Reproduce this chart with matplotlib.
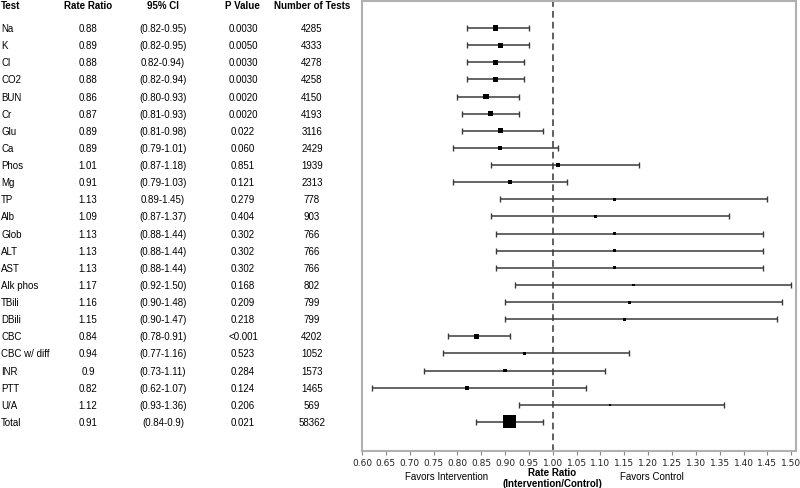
import numpy as np
import matplotlib.pyplot as plt

tests = ['Na', 'K', 'Cl', 'CO2', 'BUN', 'Cr', 'Glu', 'Ca', 'Phos', 'Mg', 'TP', 'Alb',
         'Glob', 'ALT', 'AST', 'Alk phos', 'TBili', 'DBili', 'CBC', 'CBC w/ diff',
         'INR', 'PTT', 'U/A', 'Total']
rate_ratio = [0.88, 0.89, 0.88, 0.88, 0.86, 0.87, 0.89, 0.89, 1.01, 0.91, 1.13, 1.09,
              1.13, 1.13, 1.13, 1.17, 1.16, 1.15, 0.84, 0.94, 0.9, 0.82, 1.12, 0.91]
rate_labels = ['0.88', '0.89', '0.88', '0.88', '0.86', '0.87', '0.89', '0.89', '1.01',
               '0.91', '1.13', '1.09', '1.13', '1.13', '1.13', '1.17', '1.16', '1.15',
               '0.84', '0.94', '0.9', '0.82', '1.12', '0.91']
ci_low = [0.82, 0.82, 0.82, 0.82, 0.80, 0.81, 0.81, 0.79, 0.87, 0.79, 0.89, 0.87,
          0.88, 0.88, 0.88, 0.92, 0.90, 0.90, 0.78, 0.77, 0.73, 0.62, 0.93, 0.84]
ci_high = [0.95, 0.95, 0.94, 0.94, 0.93, 0.93, 0.98, 1.01, 1.18, 1.03, 1.45, 1.37,
           1.44, 1.44, 1.44, 1.50, 1.48, 1.47, 0.91, 1.16, 1.11, 1.07, 1.36, 0.98]
ci_labels = ['(0.82-0.95)', '(0.82-0.95)', '0.82-0.94)', '(0.82-0.94)', '(0.80-0.93)',
             '(0.81-0.93)', '(0.81-0.98)', '(0.79-1.01)', '(0.87-1.18)', '(0.79-1.03)',
             '0.89-1.45)', '(0.87-1.37)', '(0.88-1.44)', '(0.88-1.44)', '(0.88-1.44)',
             '(0.92-1.50)', '(0.90-1.48)', '(0.90-1.47)', '(0.78-0.91)', '(0.77-1.16)',
             '(0.73-1.11)', '(0.62-1.07)', '(0.93-1.36)', '(0.84-0.9)']
p_values = ['0.0030', '0.0050', '0.0030', '0.0030', '0.0020', '0.0020', '0.022', '0.060',
            '0.851', '0.121', '0.279', '0.404', '0.302', '0.302', '0.302', '0.168',
            '0.209', '0.218', '<0.001', '0.523', '0.284', '0.124', '0.206', '0.021']
n_tests = [4285, 4333, 4278, 4258, 4150, 4193, 3116, 2429, 1939, 2313, 778, 903,
           766, 766, 766, 802, 799, 799, 4202, 1052, 1573, 1465, 569, 58362]

W, H = 800, 489
plt.rcParams['font.family'] = ['Liberation Sans', 'DejaVu Sans']
fig = plt.figure(figsize=(W / 100, H / 100), dpi=100)

# forest plot panel
ax = fig.add_axes([362 / W, 1 - 452 / H, (796 - 362) / W, (452 - 2) / H])
row_y0, row_step = 29, 17.13
ax.set_ylim((452 - row_y0) / row_step, (2 - row_y0) / row_step)
ax.set_xlim(0.60, 1.51)

ys = np.arange(len(tests))
rr = np.array(rate_ratio)
ax.errorbar(rr, ys, xerr=[rr - np.array(ci_low), np.array(ci_high) - rr], fmt='none',
            ecolor='#3a3a3a', elinewidth=1.1, capsize=2.2, capthick=1.0, zorder=2)
nt = np.array(n_tests, dtype=float)
box_px = 13 * (nt / nt.max()) ** 0.35
ax.scatter(rr, ys, s=(box_px * 0.72) ** 2, marker='s', color='black', zorder=3, linewidths=0)
ax.axvline(1.0, color='#444444', lw=1.2, ls=(0, (4, 2.5)), zorder=1)

ax.set_yticks([])
ax.set_xticks(np.round(np.arange(0.60, 1.501, 0.05), 2))
ax.set_xticklabels(['%.2f' % v for v in np.arange(0.60, 1.501, 0.05)],
                   fontsize=6.5, family='DejaVu Sans', color='#222222')
ax.tick_params(axis='x', length=3, width=0.8, color='#888888', pad=2)
for s in ax.spines.values():
    s.set_color('#b0b0b0')
    s.set_linewidth(1.5)


def fx(px):
    return px / W


def fy(py):
    return 1 - py / H


fig.text(fx(447), fy(477), 'Favors Intervention', fontsize=7, ha='center', va='center')
fig.text(fx(652), fy(477), 'Favors Control', fontsize=7, ha='center', va='center')
fig.text(fx(552), fy(473), 'Rate Ratio', fontsize=7, weight='bold', ha='center', va='center')
fig.text(fx(552), fy(484), '(Intervention/Control)', fontsize=7, weight='bold',
         ha='center', va='center')

# table on the left
hy = 6
fig.text(fx(1), fy(hy), 'Test', fontsize=7, weight='bold', ha='left', va='center')
fig.text(fx(88), fy(hy), 'Rate Ratio', fontsize=7, weight='bold', ha='center', va='center')
fig.text(fx(163), fy(hy), '95% CI', fontsize=7, weight='bold', ha='center', va='center')
fig.text(fx(242), fy(hy), 'P Value', fontsize=7, weight='bold', ha='center', va='center')
fig.text(fx(312), fy(hy), 'Number of Tests', fontsize=7, weight='bold', ha='center', va='center')

for i, name in enumerate(tests):
    py = row_y0 + i * row_step
    fig.text(fx(1), fy(py), name, fontsize=7, ha='left', va='center')
    fig.text(fx(88), fy(py), rate_labels[i], fontsize=7, ha='center', va='center')
    fig.text(fx(163), fy(py), ci_labels[i], fontsize=7, ha='center', va='center')
    fig.text(fx(243), fy(py), p_values[i], fontsize=7, ha='center', va='center')
    fig.text(fx(312), fy(py), str(n_tests[i]), fontsize=7, ha='center', va='center')

fig.savefig('out.png', dpi=100)
